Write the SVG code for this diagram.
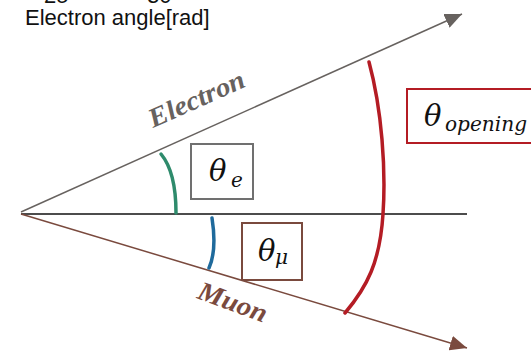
<svg xmlns="http://www.w3.org/2000/svg" width="531" height="351" viewBox="0 0 531 351">
<style>
.sans{font-family:"Liberation Sans",Arial,sans-serif;font-size:22px;fill:#111}
.math{font-family:"DejaVu Serif","Liberation Serif",serif;font-style:italic;fill:#111}
.th{font-size:29px}
.sub{font-size:20px}
.lbl{font-family:"Liberation Serif","Times New Roman",serif;font-style:italic;font-weight:bold;font-size:27px}
.box{fill:#fff;stroke-width:2}
.arc{fill:none;stroke-width:3.5;stroke-linecap:round}
</style>
<defs>
<marker id="ahE" markerUnits="userSpaceOnUse" viewBox="0 0 17 15" markerWidth="17" markerHeight="15" refX="17" refY="7.5" orient="auto">
<path d="M0,0 L17,7.5 L0,15 z" fill="#67625f"/>
</marker>
<marker id="ahM" markerUnits="userSpaceOnUse" viewBox="0 0 17 15" markerWidth="17" markerHeight="15" refX="17" refY="7.5" orient="auto">
<path d="M0,0 L17,7.5 L0,15 z" fill="#7a4a3e"/>
</marker>
</defs>
<rect width="531" height="351" fill="#fff"/>
<g id="axis-title">
<text class="sans" x="44" y="3">25</text>
<text class="sans" x="147" y="3">30</text>
<text class="sans" x="25" y="25">Electron angle[rad]</text>
</g>
<g id="connectors">
<line x1="21" y1="214" x2="467" y2="214" stroke="#111" stroke-width="1.6"/>
<line x1="21" y1="212" x2="462" y2="14" stroke="#67625f" stroke-width="1.5" marker-end="url(#ahE)"/>
<line x1="21" y1="214" x2="467" y2="348" stroke="#7a4a3e" stroke-width="1.5" marker-end="url(#ahM)"/>
<path class="arc" d="M161,154 Q176,172 176,213" stroke="#2e8b6c"/>
<path class="arc" d="M212,218 Q217,250 209,268" stroke="#1f6a9c"/>
<path class="arc" d="M369,62 C382,110 386,170 383,214 C380,262 367,287 345,313" stroke="#b41c24"/>
</g>
<g id="electron-label">
<text class="lbl" fill="#67625f" transform="translate(153,128) rotate(-24)" textLength="103" lengthAdjust="spacingAndGlyphs">Electron</text>
</g>
<g id="muon-label">
<text class="lbl" fill="#7a4a3e" transform="translate(196,298) rotate(20)" textLength="72" lengthAdjust="spacingAndGlyphs">Muon</text>
</g>
<g id="theta-e">
<rect class="box" x="191" y="144" width="62" height="55" stroke="#707070"/>
<text class="math th" x="209" y="181">θ</text>
<text class="math sub" x="231" y="187">e</text>
</g>
<g id="theta-mu">
<rect class="box" x="242" y="223" width="60" height="57" stroke="#7a4a3e"/>
<text class="math th" x="258" y="261">θ</text>
<text class="math sub" x="275" y="264">μ</text>
</g>
<g id="theta-opening">
<rect class="box" x="407" y="89" width="130" height="54" stroke="#b41c24"/>
<text class="math th" x="424" y="126">θ</text>
<text class="math sub" x="445" y="131" textLength="82" lengthAdjust="spacingAndGlyphs">opening</text>
</g>
</svg>
